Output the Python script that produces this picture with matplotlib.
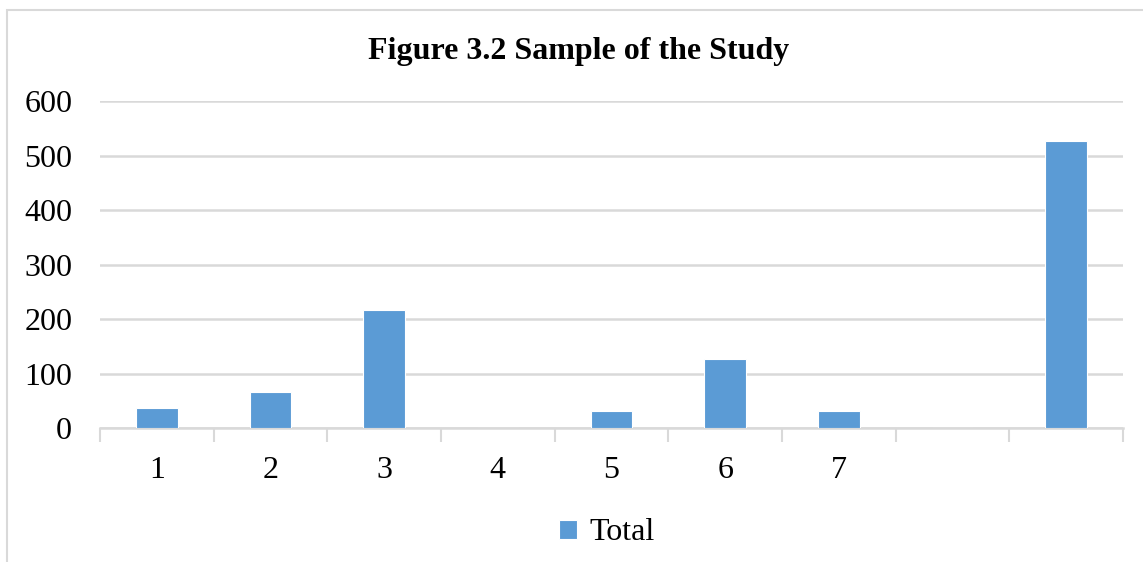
import matplotlib.pyplot as plt
from matplotlib.patches import Rectangle

# Data
categories = ["1", "2", "3", "4", "5", "6", "7", "", ""]
totals = [36, 66, 216, 0, 31, 126, 31, 0, 528]
y_ticks = [0, 100, 200, 300, 400, 500, 600]

bar_color = "#5b9bd5"
grid_color = "#d9d9d9"
plt.rcParams["font.family"] = ["Liberation Serif", "DejaVu Serif"]

W, H = 1143, 562
fig = plt.figure(figsize=(W / 100, H / 100), dpi=100)

# chart border (cropped at right and bottom)
fig.patches.append(Rectangle((7 / W, -0.1), 1.2, (H - 10) / H + 0.1,
                             transform=fig.transFigure, fill=False,
                             edgecolor=grid_color, linewidth=1.5))

ax = fig.add_axes([100 / W, 134 / H, 1023 / W, 326.5 / H])
x = list(range(len(categories)))
ax.bar(x, totals, width=0.366, color=bar_color, edgecolor="white",
       linewidth=0.8, label="Total", zorder=3)

ax.set_xlim(-0.5, len(categories) - 0.5)
ax.set_ylim(0, 600)
ax.set_yticks(y_ticks)
ax.set_yticklabels([str(v) for v in y_ticks], fontsize=23)
ax.tick_params(axis="y", length=0, pad=20)
ax.yaxis.grid(True, color=grid_color, linewidth=1.8)
ax.set_axisbelow(True)

# category labels at centres, tick marks at boundaries
ax.set_xticks(x)
ax.set_xticklabels(categories, fontsize=23)
ax.tick_params(axis="x", which="major", length=0, pad=20)
ax.set_xticks([i - 0.5 for i in range(len(categories) + 1)], minor=True)
ax.tick_params(axis="x", which="minor", length=10, width=1.5,
               color=grid_color)

for side in ["top", "right", "left"]:
    ax.spines[side].set_visible(False)
ax.spines["bottom"].set_color(grid_color)
ax.spines["bottom"].set_linewidth(1.8)

fig.text(579 / W, 1 - 51 / H, "Figure 3.2 Sample of the Study",
         ha="center", va="center", fontsize=23, fontweight="bold")

fig.legend(loc="center", bbox_to_anchor=(607 / W, 1 - 533 / H),
           frameon=False, fontsize=23, handlelength=0.55, handleheight=0.55,
           handletextpad=0.4)

fig.savefig("out.png", dpi=100)
